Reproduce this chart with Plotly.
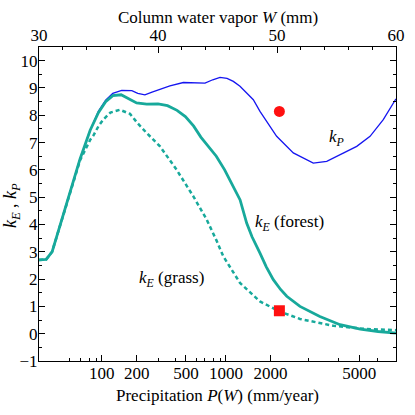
import plotly.graph_objects as go

# column water vapor W (mm) and k values
w_forest = [30.0, 30.6, 31.1, 31.76, 32.6, 33.45, 34.3, 35.0, 35.6, 36.2, 36.9, 37.5,
            38.2, 39.05, 40.0, 40.8, 41.6, 42.3, 43.0, 43.6, 44.1, 44.9, 45.6, 46.05,
            46.9, 47.45, 47.9, 48.57, 49.1, 49.69, 50.3, 50.82, 51.93, 53.6, 55.3,
            57.0, 58.5, 60.0]
k_forest = [2.70, 2.72, 3.0, 3.95, 5.2, 6.4, 7.45, 8.1, 8.5, 8.72, 8.75, 8.62,
            8.45, 8.41, 8.42, 8.35, 8.18, 7.95, 7.6, 7.2, 6.92, 6.5, 6.0, 5.6,
            4.9, 4.05, 3.55, 2.95, 2.45, 1.98, 1.62, 1.37, 1.0, 0.63, 0.33,
            0.17, 0.08, 0.02]

w_grass = [30.0, 30.6, 31.1, 31.76, 32.6, 33.45, 34.3, 34.56, 35.0, 35.4, 36.0, 36.8,
           37.65, 38.3, 39.05, 40.17, 41.57, 42.97, 44.09, 44.37, 44.93, 45.49,
           46.89, 48.57, 50.19, 51.93, 54.73, 57.54, 60.0]
k_grass = [2.70, 2.72, 3.0, 3.95, 5.2, 6.35, 7.1, 7.25, 7.6, 7.84, 8.1, 8.2,
           8.05, 7.7, 7.35, 6.86, 6.0, 5.03, 4.18, 3.93, 3.4, 2.83,
           1.86, 1.18, 0.82, 0.54, 0.29, 0.17, 0.13]

w_kp = [30.0, 30.6, 31.1, 31.76, 32.6, 33.45, 34.3, 35.0, 35.6, 36.2, 36.95, 37.8,
        38.3, 38.9, 39.5, 40.17, 41.0, 42.13, 43.0, 43.95, 44.6, 45.21, 45.8, 46.33,
        46.89, 47.73, 48.01, 48.57, 48.85, 49.97, 51.37, 53.05, 54.18, 55.57,
        56.7, 57.82, 58.93, 60.0]
k_p = [2.70, 2.72, 3.0, 3.95, 5.2, 6.4, 7.45, 8.15, 8.55, 8.8, 8.91, 8.9,
       8.8, 8.75, 8.85, 8.96, 9.08, 9.2, 9.2, 9.18, 9.3, 9.39, 9.35, 9.24,
       9.06, 8.69, 8.57, 8.14, 7.96, 7.23, 6.62, 6.25, 6.31, 6.62,
       6.86, 7.23, 7.84, 8.6]

# observed points
obs_w = [50.2]
obs_kp = [8.14]
obs_ke = [0.84]

# bottom axis: precipitation P(W) labels placed at their W positions
p_major_labels = ["100", "200", "500", "1000", "2000", "5000"]
p_major_w = [35.27, 38.21, 42.35, 45.71, 49.45, 56.92]
p_minor_w = [32.6, 33.5, 34.23, 34.85, 40.03, 41.43, 43.25, 43.89, 44.65,
             45.21, 52.61, 55.15, 58.43]

teal = "#17a99b"
font_family = "Liberation Serif, Times New Roman, serif"

fig = go.Figure()

fig.add_trace(go.Scatter(
    x=w_kp, y=k_p, mode="lines",
    line=dict(color="#1515f0", width=1.3),
))
fig.add_trace(go.Scatter(
    x=w_grass, y=k_grass, mode="lines",
    line=dict(color=teal, width=2.5, dash="4px,3px"),
))
fig.add_trace(go.Scatter(
    x=w_forest, y=k_forest, mode="lines",
    line=dict(color=teal, width=2.8),
))
fig.add_trace(go.Scatter(
    x=obs_w, y=obs_kp, mode="markers",
    marker=dict(color="#ff1010", size=11, symbol="circle"),
))
fig.add_trace(go.Scatter(
    x=obs_w, y=obs_ke, mode="markers",
    marker=dict(color="#ff1010", size=11, symbol="square"),
))
# invisible trace so the top axis is drawn
fig.add_trace(go.Scatter(
    x=[30, 60], y=[0, 0], xaxis="x2", mode="markers",
    marker=dict(opacity=0), hoverinfo="skip",
))

axis_font = dict(family=font_family, size=17, color="black")

fig.update_layout(
    width=415, height=415,
    margin=dict(l=39, r=19, t=47, b=54),
    paper_bgcolor="white", plot_bgcolor="white",
    showlegend=False,
    font=axis_font,
    xaxis=dict(
        range=[30, 60], showgrid=False, zeroline=False, automargin=False,
        showline=True, linecolor="black", linewidth=1.2,
        tickmode="array", tickvals=p_major_w, ticktext=p_major_labels,
        ticks="inside", ticklen=6, tickcolor="black", tickwidth=1,
        minor=dict(tickmode="array", tickvals=p_minor_w, ticks="inside",
                   ticklen=3, tickcolor="black"),
        tickfont=axis_font, ticklabelstandoff=-4,
    ),
    xaxis2=dict(
        range=[30, 60], overlaying="x", side="top", showgrid=False,
        zeroline=False, showline=True, linecolor="black", linewidth=1.2,
        automargin=False,
        tickmode="linear", tick0=30, dtick=10,
        ticks="inside", ticklen=6, tickcolor="black",
        minor=dict(dtick=2, ticks="inside", ticklen=3, tickcolor="black"),
        tickfont=axis_font, ticklabelstandoff=-2,
    ),
    yaxis=dict(
        range=[-1, 10.5], showgrid=False, zeroline=False, automargin=False,
        showline=True, linecolor="black", linewidth=1.2, mirror="ticks",
        tickmode="linear", tick0=0, dtick=1,
        ticks="inside", ticklen=6, tickcolor="black",
        minor=dict(dtick=0.5, ticks="inside", ticklen=3, tickcolor="black"),
        tickfont=axis_font, ticklabelstandoff=-3,
    ),
)

# axis titles
fig.add_annotation(x=0.5, y=1.095, xref="paper", yref="paper",
                   text="Column water vapor <i>W</i> (mm)", showarrow=False,
                   font=axis_font, xanchor="center", yanchor="middle")
fig.add_annotation(x=0.5, y=-0.11, xref="paper", yref="paper",
                   text="Precipitation <i>P</i>(<i>W</i>) (mm/year)", showarrow=False,
                   font=axis_font, xanchor="center", yanchor="middle")
fig.add_annotation(x=-0.075, y=0.494, xref="paper", yref="paper",
                   text="<i>k<sub>E</sub></i> , <i>k<sub>P</sub></i>", showarrow=False,
                   font=dict(family=font_family, size=18, color="black"),
                   textangle=-90, xanchor="center", yanchor="middle", borderpad=0)

# curve labels
fig.add_annotation(x=55.0, y=7.15, text="<i>k<sub>P</sub></i>", showarrow=False,
                   font=axis_font, xanchor="center")
fig.add_annotation(x=47.98, y=4.05, text="<i>k<sub>E</sub></i> (forest)",
                   showarrow=False, font=axis_font, xanchor="left")
fig.add_annotation(x=38.21, y=2.0, text="<i>k<sub>E</sub></i> (grass)",
                   showarrow=False, font=axis_font, xanchor="left")

# drop the default page margin so the figure sits at the window's corner
fig.write_html("out.html", config=dict(displayModeBar=False),
               post_script="document.body.style.margin='0px';")
